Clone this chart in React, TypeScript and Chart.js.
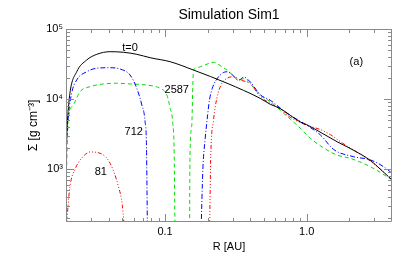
import React, { useEffect, useRef } from 'react';
import { Chart, registerables } from 'chart.js';

Chart.register(...registerables);

const X_MIN = 0.02;
const X_MAX = 4;
const Y_MIN = 175;
const Y_MAX = 1e5;

// t = 0 (black solid)
const t0R = [0.0200, 0.0205, 0.0213, 0.0238, 0.028, 0.033, 0.041, 0.0508, 0.0632, 0.0785, 0.1087, 0.159, 0.274, 0.47, 0.553, 0.65, 0.9, 1.0, 1.3, 1.64, 2.2, 2.81, 3.3, 4.0];
const t0Sigma = [1800, 5000, 12000, 24500, 36100, 43500, 47400, 46500, 43500, 38900, 34100, 25900, 16800, 10200, 8400, 7300, 4700, 4300, 3200, 2450, 1800, 1330, 1000, 700];

// t = 81 (red dash-dot-dot-dot); null separates the two segments
const t81R = [0.0201, 0.0213, 0.0232, 0.026, 0.0296, 0.0348, 0.041, 0.0469, 0.05, 0.0523, 0.1, 0.206, 0.21, 0.22, 0.232, 0.252, 0.274, 0.305, 0.34, 0.40, 0.47, 0.553, 0.65, 0.726, 0.95, 1.25, 1.47, 1.73, 2.14, 2.81, 3.3, 4.0];
const t81Sigma = [150, 550, 1000, 1450, 1750, 1680, 1200, 560, 300, 100, null, 100, 1350, 5000, 10200, 16800, 19800, 20800, 18700, 16500, 10800, 8700, 7300, 5900, 4400, 3650, 3100, 2450, 1870, 1300, 1000, 700];

// t = 712 (blue dash-dot)
const t712R = [0.0200, 0.0207, 0.0219, 0.0238, 0.028, 0.033, 0.041, 0.0482, 0.0567, 0.0632, 0.0686, 0.0723, 0.074, 0.0752, 0.12, 0.179, 0.185, 0.192, 0.20, 0.206, 0.215, 0.23, 0.255, 0.274, 0.30, 0.33, 0.36, 0.40, 0.47, 0.553, 0.726, 0.95, 1.25, 1.55, 2.14, 2.81, 3.49, 4.0];
const t712Sigma = [1800, 5300, 12000, 18700, 24500, 27500, 28000, 26800, 22000, 14200, 8200, 4750, 2000, 100, null, 100, 1000, 2700, 6000, 9700, 14000, 18700, 23500, 24500, 22000, 18500, 20500, 17500, 11500, 9600, 6250, 4500, 3060, 1900, 1500, 1350, 1080, 870];

// t = 2587 (green dashed)
const t2587R = [0.0200, 0.0202, 0.0207, 0.0225, 0.0251, 0.0296, 0.0367, 0.0456, 0.0567, 0.0743, 0.0922, 0.103, 0.1087, 0.1135, 0.116, 0.1177, 0.13, 0.149, 0.150, 0.1545, 0.157, 0.159, 0.168, 0.19, 0.22, 0.252, 0.274, 0.30, 0.33, 0.36, 0.40, 0.47, 0.553, 0.687, 0.853, 1.06, 1.39, 1.64, 2.03, 2.81, 4.0];
const t2587Sigma = [900, 1080, 4740, 8200, 12700, 15000, 16400, 16800, 16400, 15800, 14200, 11400, 7360, 4500, 1680, 100, null, 100, 1500, 4250, 15000, 25900, 28000, 30500, 33400, 28900, 25900, 22000, 18500, 19500, 16500, 11400, 9150, 6250, 4250, 2750, 1870, 1580, 1420, 1080, 700];

// curve labels
const labelText = ['t=0', '2587', '712', '81', '(a)'];
const labelR = [0.0566, 0.121, 0.0601, 0.0352, 2.24];
const labelSigma = [54100, 13400, 3340, 897, 33400];

// axis tick values
const xMajorTicks = [0.1, 1];
const xMinorTicks = [0.02, 0.03, 0.04, 0.05, 0.06, 0.07, 0.08, 0.09, 0.2, 0.3, 0.4, 0.5, 0.6, 0.7, 0.8, 0.9, 2, 3, 4];
const yMajorTicks = [1e3, 1e4, 1e5];
const yMinorTicks = [200, 300, 400, 500, 600, 700, 800, 900, 2000, 3000, 4000, 5000, 6000, 7000, 8000, 9000, 20000, 30000, 40000, 50000, 60000, 70000, 80000, 90000];

const TITLE = 'Simulation Sim1';
const FONT = '"Liberation Sans", Arial, Helvetica, sans-serif';
const SUP: Record<string, string> = { '0': '⁰', '1': '¹', '2': '²', '3': '³', '4': '⁴', '5': '⁵', '6': '⁶', '7': '⁷', '8': '⁸', '9': '⁹' };

function toPoints(r: number[], s: (number | null)[]) {
  return r.map((x, i) => ({ x, y: s[i] as any }));
}

const isDecade = (v: number) => Math.abs(Math.log10(v) - Math.round(Math.log10(v))) < 1e-6;

const framePlugin = {
  id: 'frameAndLabels',
  afterDatasetsDraw(chart: any) {
    const { ctx, chartArea: a, scales } = chart;
    const xs = scales.x;
    const ys = scales.y;
    ctx.save();
    ctx.strokeStyle = '#8a8a8a';
    ctx.lineWidth = 1;
    ctx.setLineDash([]);
    ctx.beginPath();
    ctx.rect(a.left + 0.5, a.top + 0.5, a.right - a.left - 1, a.bottom - a.top - 1);
    ctx.stroke();
    const drawX = (vals: number[], len: number) => {
      vals.forEach((v) => {
        const p = Math.round(xs.getPixelForValue(v)) + 0.5;
        if (p < a.left || p > a.right) return;
        ctx.beginPath();
        ctx.moveTo(p, a.bottom);
        ctx.lineTo(p, a.bottom - len);
        ctx.moveTo(p, a.top);
        ctx.lineTo(p, a.top + len);
        ctx.stroke();
      });
    };
    const drawY = (vals: number[], len: number) => {
      vals.forEach((v) => {
        const p = Math.round(ys.getPixelForValue(v)) + 0.5;
        if (p < a.top || p > a.bottom) return;
        ctx.beginPath();
        ctx.moveTo(a.left, p);
        ctx.lineTo(a.left + len, p);
        ctx.moveTo(a.right, p);
        ctx.lineTo(a.right - len, p);
        ctx.stroke();
      });
    };
    drawX(xMinorTicks, 4);
    drawX(xMajorTicks, 8);
    drawY(yMinorTicks, 4);
    drawY(yMajorTicks, 8);

    ctx.fillStyle = '#000';
    ctx.textAlign = 'center';
    ctx.textBaseline = 'middle';
    ctx.font = `11px ${FONT}`;
    labelText.forEach((t, i) => {
      ctx.fillText(t, xs.getPixelForValue(labelR[i]), ys.getPixelForValue(labelSigma[i]));
    });
    ctx.font = `14px ${FONT}`;
    ctx.fillText(TITLE, (a.left + a.right) / 2, 15);
    ctx.restore();
  },
};

export default function App() {
  const ref = useRef<HTMLCanvasElement>(null);
  useEffect(() => {
    if (!ref.current) return;
    Chart.defaults.font.family = FONT;
    const common = { pointRadius: 0, borderWidth: 1, fill: false, spanGaps: false, cubicInterpolationMode: 'monotone' as const };
    const chart = new Chart(ref.current, {
      type: 'line',
      data: {
        datasets: [
          { ...common, label: 't=0', data: toPoints(t0R, t0Sigma), borderColor: '#000000' },
          { ...common, label: '81', data: toPoints(t81R, t81Sigma), borderColor: '#ff0000', borderDash: [4, 2, 1, 2, 1, 2, 1, 2] },
          { ...common, label: '712', data: toPoints(t712R, t712Sigma), borderColor: '#0000ff', borderDash: [5, 2, 1, 2] },
          { ...common, label: '2587', data: toPoints(t2587R, t2587Sigma), borderColor: '#00dd00', borderDash: [4, 3] },
        ],
      },
      options: {
        animation: false,
        responsive: false,
        parsing: false as any,
        normalized: true,
        layout: { padding: { left: 0, right: 23, top: 29, bottom: 0 } },
        plugins: { legend: { display: false }, tooltip: { enabled: false }, title: { display: false } },
        scales: {
          x: {
            type: 'logarithmic',
            min: X_MIN,
            max: X_MAX,
            grid: { display: false, drawTicks: false },
            border: { display: false },
            ticks: {
              autoSkip: false,
              maxRotation: 0,
              padding: 3,
              color: '#000',
              font: { size: 11 },
              callback: (v: any) => (isDecade(Number(v)) ? (Number(v) < 0.5 ? '0.1' : '1.0') : ''),
            },
            title: { display: true, text: 'R [AU]', color: '#000', font: { size: 11 }, padding: { top: 0, bottom: 16.7 } },
            afterFit: (s: any) => {
              s.height = 48;
            },
          },
          y: {
            type: 'logarithmic',
            min: Y_MIN,
            max: Y_MAX,
            grid: { display: false, drawTicks: false },
            border: { display: false },
            ticks: {
              autoSkip: false,
              padding: 3,
              color: '#000',
              font: { size: 11 },
              callback: (v: any) => {
                const n = Number(v);
                if (!isDecade(n)) return '';
                const e = String(Math.round(Math.log10(n)));
                return '10' + e.split('').map((c) => SUP[c]).join('');
              },
            },
            title: { display: true, text: 'Σ [g cm⁻³]', color: '#000', font: { size: 12 }, padding: { top: 26.1, bottom: 0 } },
            afterFit: (s: any) => {
              s.width = 66;
            },
          },
        },
      },
      plugins: [framePlugin],
    });
    return () => chart.destroy();
  }, []);
  return (
    <div style={{ position: 'absolute', left: 0, top: 0, width: 415, height: 270, background: '#fff' }}>
      <canvas ref={ref} width={415} height={270} style={{ width: 415, height: 270, display: 'block' }} />
    </div>
  );
}
